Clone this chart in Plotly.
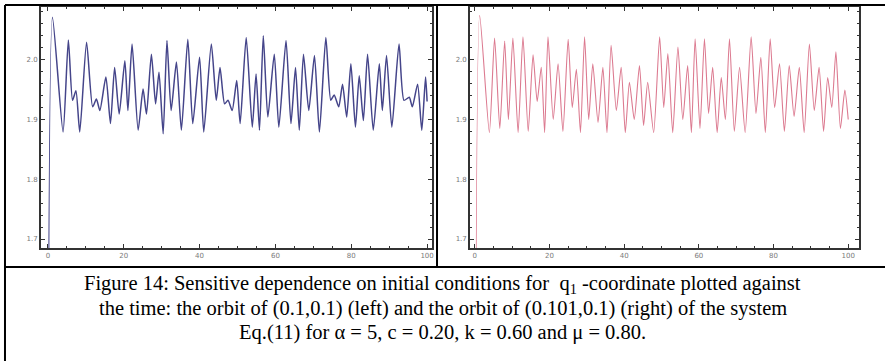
import plotly.graph_objects as go

W, H = 887, 361

# Left panel: orbit of (0.1, 0.1) — extrema
t_left = [0.0, 1.2, 4.0, 5.4, 6.5, 7.4, 8.4, 10.2, 11.8, 12.8, 13.7, 15.3, 16.5, 17.6, 18.8,
          20.3, 21.1, 22.2, 23.8, 25.1, 26.0, 27.3, 28.4, 29.3, 30.4, 31.4, 32.5, 33.9, 35.2,
          36.9, 38.2, 40.0, 41.1, 43.1, 44.4, 45.4, 46.6, 47.5, 48.6, 49.8, 50.7, 52.3, 53.9,
          54.9, 55.8, 56.8, 58.0, 59.7, 60.9, 62.8, 64.1, 65.3, 66.3, 67.4, 68.8, 70.3, 71.6,
          73.3, 74.6, 75.5, 76.7, 77.7, 78.8, 79.9, 81.1, 82.1, 83.2, 84.3, 85.8, 87.4, 88.2,
          89.3, 90.7, 92.6, 93.9, 95.3, 96.1, 97.5, 98.6, 99.6, 100.0]
q_left = [0.1, 2.071, 1.879, 2.033, 1.932, 1.948, 1.879, 2.029, 1.921, 1.934, 1.915, 1.971, 1.893,
          1.987, 1.909, 1.998, 1.915, 2.026, 1.882, 1.951, 1.909, 2.009, 1.926, 1.979, 1.876,
          2.032, 1.915, 1.996, 1.882, 2.034, 1.893, 2.004, 1.879, 2.026, 1.932, 1.987, 1.926,
          1.932, 1.915, 1.965, 1.893, 2.037, 1.887, 1.976, 1.882, 2.040, 1.904, 2.009, 1.887,
          2.032, 1.893, 1.987, 1.882, 2.009, 1.915, 2.007, 1.879, 2.037, 1.932, 1.941, 1.921,
          1.959, 1.904, 1.993, 1.887, 1.973, 1.898, 2.009, 1.882, 1.993, 1.915, 2.007, 1.887,
          2.026, 1.932, 1.937, 1.921, 1.959, 1.882, 1.971, 1.930]

# Right panel: orbit of (0.101, 0.1)
t_right = [0.0, 1.3, 3.9, 5.3, 6.7, 8.0, 9.0, 10.2, 11.6, 12.9, 14.3, 15.6, 16.7, 17.8, 18.7,
           19.6, 21.0, 22.3, 23.6, 25.0, 26.1, 27.2, 28.3, 29.4, 30.5, 31.6, 33.0, 34.3, 35.4,
           36.5, 37.9, 39.2, 40.3, 41.4, 42.7, 44.1, 45.2, 46.3, 47.9, 49.5, 50.6, 51.7, 53.0,
           54.4, 55.7, 57.0, 58.0, 59.0, 60.3, 61.5, 62.6, 63.7, 64.9, 66.0, 67.1, 68.2, 69.5,
           70.9, 72.4, 74.0, 75.3, 76.6, 77.8, 79.1, 80.3, 81.6, 82.9, 84.2, 85.5, 86.9, 88.2,
           89.6, 90.9, 92.2, 93.4, 94.5, 95.6, 96.7, 97.9, 99.1, 100.0]
q_right = [0.1, 2.074, 1.878, 2.036, 1.885, 2.031, 1.900, 2.036, 1.878, 2.038, 1.880, 2.008, 1.930,
           1.987, 1.878, 2.038, 1.900, 1.993, 1.880, 2.034, 1.920, 1.984, 1.878, 2.038, 1.900,
           1.993, 1.895, 1.987, 1.878, 2.024, 1.915, 1.987, 1.878, 1.962, 1.900, 1.990, 1.890,
           1.962, 1.878, 2.038, 1.920, 2.010, 1.878, 2.021, 1.900, 1.990, 1.878, 2.035, 1.885,
           2.035, 1.910, 1.987, 1.878, 1.970, 1.900, 2.035, 1.880, 1.987, 1.878, 2.038, 1.910,
           2.004, 1.878, 2.035, 1.920, 1.993, 1.880, 1.990, 1.905, 1.987, 1.878, 2.026, 1.915,
           1.987, 1.880, 1.970, 1.920, 2.013, 1.885, 1.949, 1.900]

x_ticks = [0, 20, 40, 60, 80, 100]
y_ticks = [1.7, 1.8, 1.9, 2.0]
y_tick_labels = ["1.7", "1.8", "1.9", "2.0"]

caption_lines = [
    "Figure 14: Sensitive dependence on initial conditions for  q<sub>1</sub> -coordinate plotted against",
    "the time: the orbit of (0.1,0.1) (left) and the orbit of (0.101,0.1) (right) of the system",
    "Eq.(11) for α = 5, c = 0.20, k = 0.60 and μ = 0.80.",
]


def px(x):
    return x / W


def py(y):
    return 1 - y / H


fig = go.Figure()
fig.add_trace(go.Scatter(x=t_left, y=q_left, mode="lines", xaxis="x", yaxis="y",
                         line=dict(color="#45458a", width=1.5, shape="spline", smoothing=0.6),
                         showlegend=False, hoverinfo="skip"))
fig.add_trace(go.Scatter(x=t_right, y=q_right, mode="lines", xaxis="x2", yaxis="y2",
                         line=dict(color="#dc7a90", width=1.1, shape="spline", smoothing=0.6),
                         showlegend=False, hoverinfo="skip"))

tickfont = dict(family="DejaVu Sans", size=7, color="#7a7a7a")


def xax(domain, rng):
    return dict(domain=domain, range=rng, tickvals=x_ticks, ticktext=[str(v) for v in x_ticks],
                ticks="inside", ticklen=4, tickwidth=1, tickcolor="#333",
                minor=dict(dtick=5, tick0=0, ticks="inside", ticklen=2, tickcolor="#333"),
                showline=True, linecolor="#333", linewidth=1.5, mirror="ticks",
                showgrid=False, zeroline=False, tickfont=tickfont, fixedrange=True)


def yax(domain, rng, anchor):
    return dict(domain=domain, range=rng, tickvals=y_ticks, ticktext=y_tick_labels,
                ticks="inside", ticklen=4, tickwidth=1, tickcolor="#333",
                minor=dict(dtick=0.02, tick0=1.7, ticks="inside", ticklen=2, tickcolor="#333"),
                showline=True, linecolor="#333", linewidth=1.5, mirror="ticks",
                showgrid=False, zeroline=False, tickfont=tickfont, anchor=anchor,
                fixedrange=True)


y_dom = [py(248), py(7)]
yr = [1.685, 2.088]

fig.update_layout(
    width=W, height=H, margin=dict(l=0, r=0, t=0, b=0),
    paper_bgcolor="white", plot_bgcolor="white",
    xaxis=xax([px(41), px(433)], [-1.84, 101.3]) | dict(anchor="y"),
    yaxis=yax(y_dom, yr, "x"),
    xaxis2=xax([px(471), px(861)], [-1.3, 102.9]) | dict(anchor="y2"),
    yaxis2=yax(y_dom, yr, "x2"),
)

border = dict(color="black", width=2)
shapes = [
    dict(type="line", xref="paper", yref="paper", x0=px(5), x1=1, y0=py(5), y1=py(5), line=border),
    dict(type="line", xref="paper", yref="paper", x0=px(5), x1=px(5), y0=py(5), y1=0, line=border),
    dict(type="line", xref="paper", yref="paper", x0=px(438), x1=px(438), y0=py(5), y1=py(267), line=border),
    dict(type="line", xref="paper", yref="paper", x0=px(5), x1=1, y0=py(267), y1=py(267), line=border),
]
fig.update_layout(shapes=shapes)

for yy, txt in zip([284, 308, 332], caption_lines):
    fig.add_annotation(x=px(444), y=py(yy), xref="paper", yref="paper", text=txt,
                       showarrow=False, xanchor="center", yanchor="middle",
                       font=dict(family="Liberation Serif", size=20.5, color="black"))

fig.write_html("out.html")
